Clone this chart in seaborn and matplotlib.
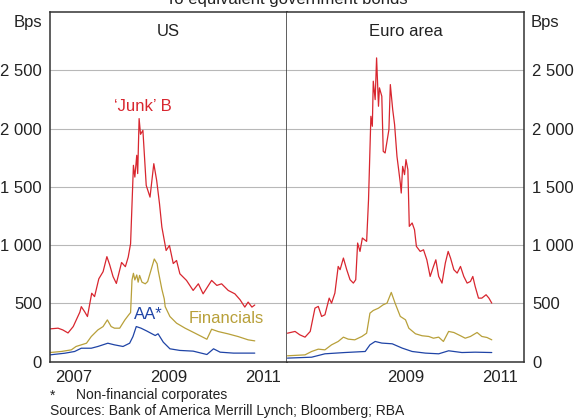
import matplotlib
matplotlib.use("Agg")
import matplotlib.pyplot as plt
import matplotlib.ticker as mticker
import pandas as pd
import seaborn as sns

# ---- data (decimal years, bps) ----
us_junk_t = [2007.00, 2007.17, 2007.27, 2007.38, 2007.49, 2007.63, 2007.66, 2007.73, 2007.79, 2007.88,
             2007.94, 2008.03, 2008.12, 2008.20, 2008.26, 2008.33, 2008.40, 2008.51, 2008.59, 2008.65,
             2008.70, 2008.76, 2008.79, 2008.83, 2008.85, 2008.88, 2008.91, 2008.96, 2009.03, 2009.11,
             2009.19, 2009.25, 2009.31, 2009.36, 2009.45, 2009.52, 2009.60, 2009.67, 2009.74, 2009.88,
             2010.02, 2010.13, 2010.23, 2010.41, 2010.52, 2010.62, 2010.76, 2010.90, 2011.01, 2011.11,
             2011.18, 2011.26, 2011.32]
us_junk_v = [280, 286, 271, 245, 300, 424, 471, 428, 386, 586,
             557, 710, 771, 900, 829, 729, 670, 850, 814, 896,
             1011, 1684, 1583, 1770, 1613, 2085, 1950, 1984, 1512, 1411,
             1698, 1555, 1355, 1154, 953, 996, 841, 867, 753, 696,
             610, 667, 581, 696, 653, 667, 610, 581, 530, 467,
             510, 467, 485]

us_fin_t = [2007.00, 2007.24, 2007.45, 2007.55, 2007.66, 2007.77, 2007.87, 2008.01, 2008.12, 2008.21,
            2008.29, 2008.36, 2008.47, 2008.58, 2008.66, 2008.70, 2008.73, 2008.76, 2008.79, 2008.83,
            2008.86, 2008.89, 2008.94, 2009.01, 2009.06, 2009.20, 2009.26, 2009.28, 2009.36, 2009.41,
            2009.43, 2009.53, 2009.67, 2009.85, 2010.06, 2010.20, 2010.31, 2010.41, 2010.55, 2010.76,
            2010.97, 2011.18, 2011.32]
us_fin_v = [77, 86, 100, 129, 143, 157, 214, 271, 300, 357,
            300, 286, 286, 357, 400, 420, 700, 757, 700, 743,
            681, 739, 681, 667, 686, 880, 839, 786, 620, 538,
            471, 386, 329, 286, 243, 214, 191, 277, 257, 237,
            214, 186, 177]

us_aa_t = [2007.00, 2007.31, 2007.52, 2007.66, 2007.87, 2008.01, 2008.22, 2008.36, 2008.54, 2008.68,
           2008.75, 2008.82, 2008.92, 2009.04, 2009.22, 2009.28, 2009.39, 2009.53, 2009.74, 2010.02,
           2010.31, 2010.45, 2010.59, 2010.87, 2011.32]
us_aa_v = [57, 71, 86, 114, 114, 129, 157, 143, 129, 157,
           214, 300, 286, 262, 223, 238, 166, 109, 95, 89,
           60, 109, 80, 72, 72]

eu_junk_t = [2007.01, 2007.17, 2007.27, 2007.38, 2007.49, 2007.59, 2007.66, 2007.73, 2007.80, 2007.89,
             2007.94, 2008.01, 2008.08, 2008.12, 2008.19, 2008.26, 2008.33, 2008.40, 2008.45, 2008.49,
             2008.54, 2008.59, 2008.68, 2008.72, 2008.75, 2008.77, 2008.80, 2008.82, 2008.86, 2008.89,
             2008.93, 2008.95, 2009.00, 2009.03, 2009.07, 2009.15, 2009.18, 2009.23, 2009.27, 2009.32,
             2009.36, 2009.39, 2009.41, 2009.44, 2009.48, 2009.51, 2009.55, 2009.58, 2009.64, 2009.69,
             2009.73, 2009.81, 2009.88, 2009.95, 2010.02, 2010.09, 2010.14, 2010.20, 2010.27, 2010.34,
             2010.40, 2010.45, 2010.52, 2010.59, 2010.66, 2010.73, 2010.80, 2010.87, 2010.92, 2010.97,
             2011.04, 2011.11, 2011.20, 2011.26, 2011.32]
eu_junk_v = [243, 258, 229, 209, 258, 458, 473, 387, 401, 544,
             501, 587, 816, 788, 888, 788, 702, 673, 702, 1017,
             945, 1060, 1031, 1389, 1819, 2105, 2019, 2406, 2248, 2606,
             2191, 2349, 2277, 1804, 1790, 1990, 2377, 2162, 2033, 1761,
             1632, 1532, 1446, 1675, 1604, 1733, 1647, 1160, 1189, 1131,
             988, 945, 959, 873, 730, 816, 873, 730, 673, 845,
             945, 888, 788, 759, 816, 730, 673, 687, 730, 644,
             544, 544, 573, 544, 501]

eu_fin_t = [2007.01, 2007.38, 2007.52, 2007.66, 2007.80, 2007.94, 2008.08, 2008.19, 2008.29, 2008.43,
            2008.58, 2008.68, 2008.75, 2008.82, 2008.93, 2009.03, 2009.11, 2009.20, 2009.28, 2009.39,
            2009.50, 2009.57, 2009.71, 2009.85, 2009.99, 2010.09, 2010.20, 2010.30, 2010.41, 2010.52,
            2010.66, 2010.76, 2010.87, 2011.01, 2011.11, 2011.22, 2011.32]
eu_fin_v = [49, 57, 86, 106, 100, 143, 172, 209, 192, 186,
            215, 243, 415, 438, 458, 487, 501, 593, 501, 387,
            358, 286, 238, 221, 215, 200, 209, 172, 258, 249,
            221, 200, 215, 249, 215, 206, 186]

eu_aa_t = [2007.01, 2007.52, 2007.80, 2008.22, 2008.65, 2008.75, 2008.86, 2009.00, 2009.22, 2009.43,
           2009.64, 2009.92, 2010.20, 2010.41, 2010.69, 2010.97, 2011.32]
eu_aa_v = [29, 37, 66, 77, 86, 143, 172, 158, 152, 115,
           86, 72, 66, 92, 77, 80, 77]

RED = "#d8262f"
GOLD = "#b8a03a"
BLUE = "#1f44a6"
TXT = "#222222"
FS = 12
FS_NOTE = 10

sns.set_theme(style="white")
plt.rcParams["font.family"] = ["Liberation Sans", "DejaVu Sans"]

fig = plt.figure(figsize=(5.76, 4.18), dpi=100)
fig.patch.set_facecolor("white")
ax_us = fig.add_axes([50 / 576, 1 - 361.5 / 418, 237 / 576, 349.5 / 418])
ax_eu = fig.add_axes([287 / 576, 1 - 361.5 / 418, 237 / 576, 349.5 / 418])


def draw_series(ax, t, v, color):
    df = pd.DataFrame({"t": t, "v": v})
    sns.lineplot(data=df, x="t", y="v", ax=ax, color=color, linewidth=0.9)


draw_series(ax_us, us_junk_t, us_junk_v, RED)
draw_series(ax_us, us_fin_t, us_fin_v, GOLD)
draw_series(ax_us, us_aa_t, us_aa_v, BLUE)
draw_series(ax_eu, eu_junk_t, eu_junk_v, RED)
draw_series(ax_eu, eu_fin_t, eu_fin_v, GOLD)
draw_series(ax_eu, eu_aa_t, eu_aa_v, BLUE)

fmt = mticker.FuncFormatter(lambda v, p: f"{int(v):,}".replace(",", " "))

for ax, labels in [(ax_us, [2007, 2009, 2011]), (ax_eu, [2009, 2011])]:
    ax.set_xlim(2007, 2012)
    ax.set_ylim(0, 3000)
    ax.set_xlabel("")
    ax.set_ylabel("")
    ax.set_facecolor("white")
    for s in ax.spines.values():
        s.set_color("#333333")
        s.set_linewidth(1.1)
    ax.set_yticks([0, 500, 1000, 1500, 2000, 2500])
    ax.yaxis.set_major_formatter(fmt)
    ax.grid(axis="y", color="#b8b8b8", linewidth=0.8)
    ax.set_axisbelow(True)
    # year boundaries as ticks, labels centred in the year
    ax.set_xticks([2008, 2009, 2010, 2011])
    ax.set_xticklabels([])
    ax.set_xticks([y + 0.5 for y in labels], minor=True)
    ax.set_xticklabels([str(y) for y in labels], minor=True)
    ax.tick_params(axis="x", which="major", direction="in", length=4, width=0.9, color="#555555")
    ax.tick_params(axis="x", which="minor", length=0, pad=6, labelsize=FS, labelcolor=TXT)

ax_us.tick_params(axis="y", length=0, pad=6, labelsize=FS, labelcolor=TXT)
ax_eu.yaxis.tick_right()
ax_eu.tick_params(axis="y", right=True, length=0, pad=6, labelsize=FS, labelcolor=TXT)
ax_eu.spines["left"].set_visible(False)

ax_us.text(0.5, 0.943, "US", transform=ax_us.transAxes, ha="center", va="center",
           fontsize=FS, color=TXT)
ax_eu.text(0.5, 0.943, "Euro area", transform=ax_eu.transAxes, ha="center", va="center",
           fontsize=FS, color=TXT)

# series labels
ax_us.text(2008.96, 2190, "\u2018Junk\u2019 B", ha="center", va="center", fontsize=FS, color=RED)
ax_us.text(2009.07, 400, "AA*", ha="center", va="center", fontsize=FS, color=BLUE)
ax_us.text(2010.71, 365, "Financials", ha="center", va="center", fontsize=FS, color=GOLD)

fig.text(28 / 576, 1 - 22 / 418, "Bps", ha="center", va="center", fontsize=FS, color=TXT)
fig.text(545 / 576, 1 - 22 / 418, "Bps", ha="center", va="center", fontsize=FS, color=TXT)
fig.text(287 / 576, 1 - 4 / 418, "To equivalent government bonds", ha="center", va="baseline",
         fontsize=FS, color=TXT)

fig.text(50 / 576, 1 - 396 / 418, "*", ha="left", va="center", fontsize=FS_NOTE, color=TXT)
fig.text(76 / 576, 1 - 395 / 418, "Non-financial corporates", ha="left", va="center",
         fontsize=FS_NOTE, color=TXT)
fig.text(50 / 576, 1 - 411 / 418, "Sources: Bank of America Merrill Lynch; Bloomberg; RBA",
         ha="left", va="center", fontsize=FS_NOTE, color=TXT)

fig.savefig("out.png", dpi=100)
